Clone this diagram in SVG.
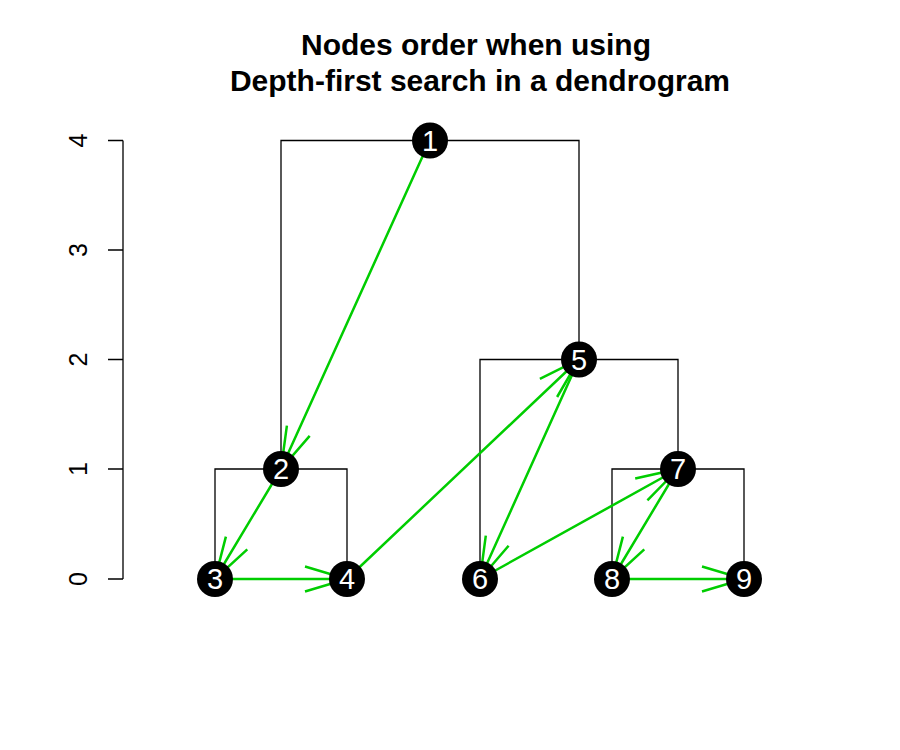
<svg xmlns="http://www.w3.org/2000/svg" width="900" height="750" viewBox="0 0 900 750">
<style>
.title{font-family:"Liberation Sans",Arial,sans-serif;font-weight:bold;font-size:30px;fill:#000;text-anchor:middle}
.ax{font-family:"Liberation Sans",Arial,sans-serif;font-size:25px;fill:#000;text-anchor:middle}
.tree{fill:none;stroke:#000;stroke-width:1.3}
.arr{fill:none;stroke:#00CD00;stroke-width:2.5;stroke-linecap:butt}
.node circle{fill:#000}
.node text{font-family:"Liberation Sans",Arial,sans-serif;font-size:29px;fill:#fff;text-anchor:middle}
</style>
<rect width="900" height="750" fill="#fff"/>
<text class="title" x="476" y="55">Nodes order when using</text>
<text class="title" x="480" y="91">Depth-first search in a dendrogram</text>
<g id="axis">
<path class="tree" d="M123,140.5V579M108,140.5H123M108,250H123M108,359.5H123M108,469H123M108,579H123"/>
<text class="ax" transform="translate(87,579) rotate(-90)">0</text>
<text class="ax" transform="translate(87,469) rotate(-90)">1</text>
<text class="ax" transform="translate(87,359.5) rotate(-90)">2</text>
<text class="ax" transform="translate(87,250) rotate(-90)">3</text>
<text class="ax" transform="translate(87,140.5) rotate(-90)">4</text>
</g>
<g id="dendrogram">
<path class="tree" d="M281,469V140.5H579V359.5M215,579V469H347V579M480,579V359.5H678V469M612,579V469H744V579"/>
</g>
<g id="connectors">
<path class="arr" d="M430,140L281,469M286.9,425.6L281,469L309.7,435.9"/>
<path class="arr" d="M281,469L215,579M225.9,536.6L215,579L247.3,549.4"/>
<path class="arr" d="M215,579L347,579M305,566.5L347,579L305,591.5"/>
<path class="arr" d="M347,579L579,359.5M557.1,397L579,359.5L539.9,378.8"/>
<path class="arr" d="M579,359.5L480,579M485.8,535.6L480,579L508.6,545.8"/>
<path class="arr" d="M480,579L678,469M647.4,500.3L678,469L635.2,478.5"/>
<path class="arr" d="M678,469L612,579M622.9,536.6L612,579L644.3,549.4"/>
<path class="arr" d="M612,579L744,579M702,566.5L744,579L702,591.5"/>
</g>
<g id="n1" class="node"><circle cx="430" cy="140.5" r="18"/><text x="430" y="150.5">1</text></g>
<g id="n2" class="node"><circle cx="281" cy="469" r="18"/><text x="281" y="479">2</text></g>
<g id="n3" class="node"><circle cx="215" cy="579" r="18"/><text x="215" y="589">3</text></g>
<g id="n4" class="node"><circle cx="347" cy="579" r="18"/><text x="347" y="589">4</text></g>
<g id="n5" class="node"><circle cx="579" cy="359.5" r="18"/><text x="579" y="369.5">5</text></g>
<g id="n6" class="node"><circle cx="480" cy="579" r="18"/><text x="480" y="589">6</text></g>
<g id="n7" class="node"><circle cx="678" cy="469" r="18"/><text x="678" y="479">7</text></g>
<g id="n8" class="node"><circle cx="612" cy="579" r="18"/><text x="612" y="589">8</text></g>
<g id="n9" class="node"><circle cx="744" cy="579" r="18"/><text x="744" y="589">9</text></g>
</svg>
